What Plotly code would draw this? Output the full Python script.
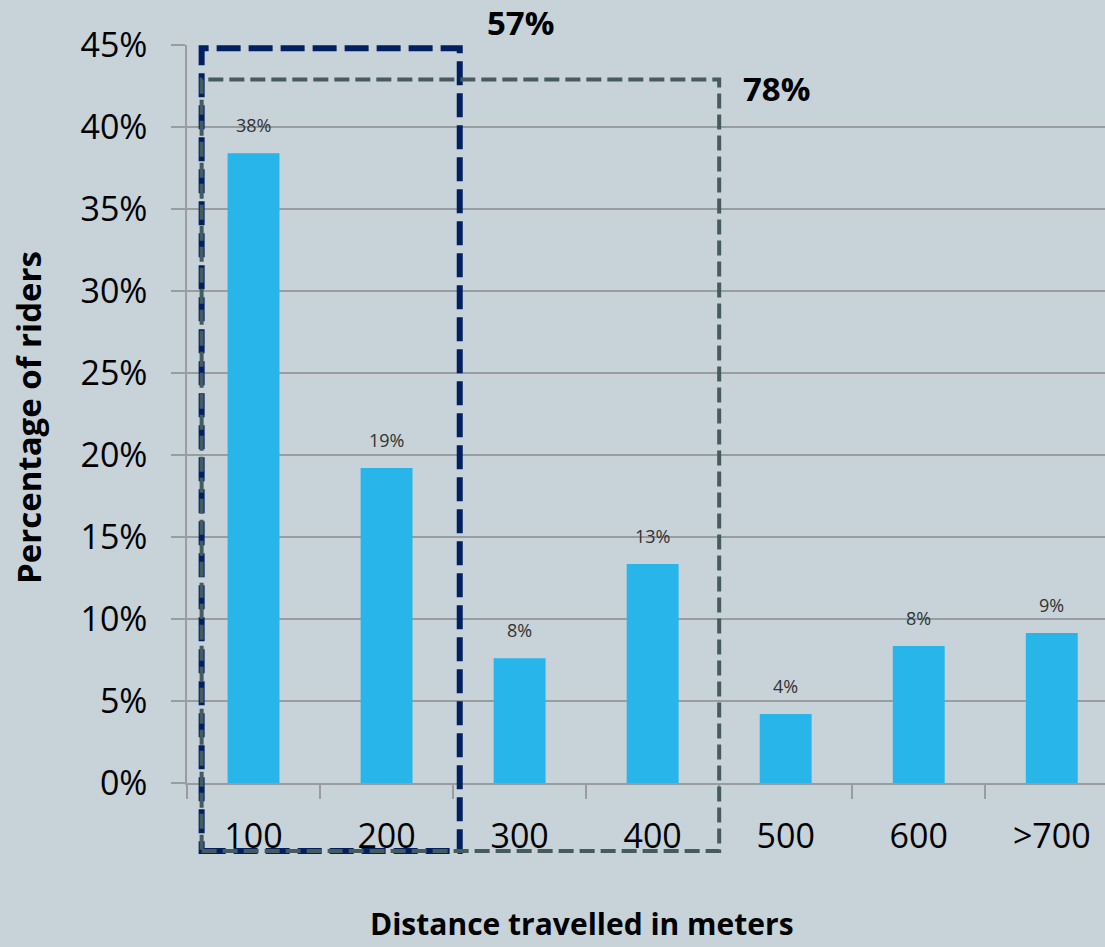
import plotly.graph_objects as go

# Share of riders by distance travelled
categories = ["100", "200", "300", "400", "500", "600", ">700"]
share_pct = [38.4, 19.2, 7.6, 13.35, 4.2, 8.35, 9.15]
y_ticks = [0, 5, 10, 15, 20, 25, 30, 35, 40, 45]
y_tick_text = [f"{t}%" for t in y_ticks]

# Bracketed groups: (first category index, last category index, total label)
groups = [(0, 1, "57%"), (0, 3, "78%")]

BG = "#c7d2d9"
GRID = "#9a9d9f"
BAR = "#27b5ea"
NAVY = "#012060"
SLATE = "#465b5d"
FONT = "Open Sans"

x_range = [-0.5, 6.40]
y_range = [0, 45]

# plot-area geometry in pixels (used for placing the axis titles)
W, H = 1105, 947
M_L, M_R, M_T, M_B = 187, 0, 45, 164
PW, PH = W - M_L - M_R, H - M_T - M_B

fig = go.Figure()
fig.add_trace(go.Bar(
    x=categories,
    y=share_pct,
    width=0.39,
    marker=dict(color=BAR, line=dict(width=0)),
    hoverinfo="skip",
))

# value labels above each bar (x given as category index)
for i, v in enumerate(share_pct):
    fig.add_annotation(
        x=i, y=v, xref="x", yref="y", text=f"{v:.0f}%",
        showarrow=False, yanchor="bottom", yshift=14,
        font=dict(family=FONT, size=18, color="#333333"),
    )


def to_dom_x(v):
    return (v - x_range[0]) / (x_range[1] - x_range[0])


def to_dom_y(v):
    return (v - y_range[0]) / (y_range[1] - y_range[0])


# dashed group boxes (axis-domain units so they can extend below the axis)
box_styles = [
    dict(color=NAVY, width=6, dash="24px,8px", top=44.8, right_pad=0.55),
    dict(color=SLATE, width=4, dash="15px,6px", top=42.9, right_pad=0.50),
]
box_left = -0.39
box_bottom = -4.15
for (g0, g1, label), st in zip(groups, box_styles):
    fig.add_shape(
        type="rect", xref="x domain", yref="y domain",
        x0=to_dom_x(g0 + box_left), x1=to_dom_x(g1 + st["right_pad"]),
        y0=to_dom_y(box_bottom), y1=to_dom_y(st["top"]),
        line=dict(color=st["color"], width=st["width"], dash=st["dash"]),
        layer="above",
    )

# group totals
fig.add_annotation(
    x=to_dom_x(groups[0][1] + 0.55) + 0.066, y=to_dom_y(44.8),
    xref="x domain", yref="y domain", text=f"<b>{groups[0][2]}</b>",
    showarrow=False, yanchor="bottom", yshift=1,
    font=dict(family=FONT, size=33, color="#000000"),
)
fig.add_annotation(
    x=to_dom_x(groups[1][1] + 0.5) + 0.062, y=to_dom_y(42.9),
    xref="x domain", yref="y domain", text=f"<b>{groups[1][2]}</b>",
    showarrow=False, yanchor="middle", yshift=-9,
    font=dict(family=FONT, size=33, color="#000000"),
)

# axis titles
fig.add_annotation(
    x=(28 - M_L) / PW, y=(H - M_B - 418) / PH, xref="paper", yref="paper",
    text="<b>Percentage of riders</b>",
    showarrow=False, textangle=-90, xanchor="center", yanchor="middle",
    font=dict(family=FONT, size=33, color="#000000"),
)
fig.add_annotation(
    x=(582 - M_L) / PW, y=(H - M_B - 946) / PH, xref="paper", yref="paper",
    text="<b>Distance travelled in meters</b>",
    showarrow=False, xanchor="center", yanchor="bottom",
    font=dict(family=FONT, size=30, color="#000000"),
)

fig.update_layout(
    width=W, height=H,
    margin=dict(l=M_L, r=M_R, t=M_T, b=M_B, pad=0),
    paper_bgcolor=BG, plot_bgcolor=BG,
    showlegend=False,
)
fig.update_xaxes(
    type="category", range=x_range,
    tickson="boundaries", ticks="outside", ticklen=14, tickcolor=GRID, tickwidth=1.5,
    showgrid=False, showline=True, linecolor=GRID, linewidth=1.5,
    zeroline=False, ticklabelstandoff=22,
    tickfont=dict(family=FONT, size=34, color="#000000"),
    fixedrange=True,
)
fig.update_yaxes(
    range=y_range, tickmode="array", tickvals=y_ticks, ticktext=y_tick_text,
    ticks="outside", ticklen=14, tickcolor=GRID, tickwidth=1.5,
    showgrid=True, gridcolor=GRID, gridwidth=1.5,
    showline=True, linecolor=GRID, linewidth=1.5,
    zeroline=False, ticklabelstandoff=17, layer="above traces",
    tickfont=dict(family=FONT, size=34, color="#000000"),
    fixedrange=True,
)

fig.write_html("out.html")
